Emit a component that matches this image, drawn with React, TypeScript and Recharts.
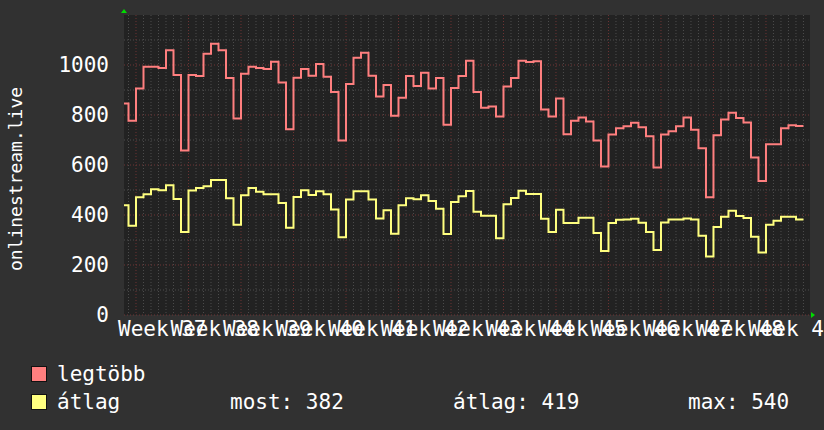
import React from "react";
import { LineChart, Line, XAxis, YAxis, CartesianGrid, ReferenceDot } from "recharts";

// daily values, first entry is day -2 relative to the start of week 37
const FIRST_DAY = -2;

const maxValues = [
  846, 777, 906, 993, 993, 988, 1059, 960, 658, 960, 956, 1045, 1085, 1059, 948, 786,
  965, 993, 988, 984, 1013, 930, 743, 949, 984, 957, 1004, 953, 892, 698, 924, 1029,
  1049, 957, 874, 920, 797, 869, 956, 916, 969, 906, 948, 761, 908, 956, 1017, 892,
  829, 834, 794, 914, 948, 1017, 1012, 1015, 822, 794, 866, 723, 777, 790, 774, 698,
  594, 722, 747, 755, 769, 751, 715, 590, 722, 735, 755, 790, 741, 667, 471, 719,
  782, 809, 788, 770, 630, 536, 683, 683, 747, 759, 756,
];

const avgValues = [
  439, 357, 471, 483, 503, 499, 519, 464, 332, 498, 508, 515, 540, 540, 467, 361,
  479, 508, 493, 483, 483, 448, 349, 472, 499, 480, 495, 483, 422, 311, 462, 495,
  495, 462, 386, 419, 325, 439, 467, 463, 479, 456, 425, 324, 452, 475, 496, 413,
  397, 397, 307, 443, 468, 497, 484, 484, 385, 332, 421, 368, 368, 389, 389, 328,
  256, 368, 381, 382, 385, 369, 332, 260, 370, 382, 382, 386, 382, 317, 234, 352,
  393, 417, 396, 388, 313, 250, 361, 377, 393, 393, 382,
];

const weekLabels = [
  "Week 37", "Week 38", "Week 39", "Week 40", "Week 41", "Week 42", "Week 43",
  "Week 44", "Week 45", "Week 46", "Week 47", "Week 48", "Week 49",
];

const yTicks = [0, 200, 400, 600, 800, 1000];
const yMinor = [100, 300, 500, 700, 900, 1100];
const X_DOMAIN: [number, number] = [-1.6, 89.87];
const Y_DOMAIN: [number, number] = [0, 1200];

const legendRows = [
  { name: "legtöbb", color: "#ff7f7f", stats: [] as string[] },
  { name: "átlag", color: "#ffff7f", stats: ["most: 382", "átlag: 419", "max: 540"] },
];

const MONO = "'DejaVu Sans Mono', monospace";

// build table; the trailing row closes the last step
const rows = maxValues.map((v, i) => ({ day: FIRST_DAY + i, max: v, avg: avgValues[i] }));
rows.push({
  day: FIRST_DAY + maxValues.length,
  max: maxValues[maxValues.length - 1],
  avg: avgValues[avgValues.length - 1],
});

const weekStarts = weekLabels.map((_, i) => i * 7);
const weekMids = weekLabels.map((_, i) => i * 7 + 3.5);
const dayLines: number[] = [];
for (let d = -1; d <= 89; d++) if (d % 7 !== 0) dayLines.push(d);

const WeekTick = (props: any) => {
  const { x, y, index } = props;
  return (
    <text x={x} y={y} dy="0.71em" textAnchor="middle" fill="#fff" fontFamily={MONO} fontSize={21}>
      {weekLabels[index]}
    </text>
  );
};

const AxisTitle = (props: any) => {
  const vb = props.viewBox || { x: 0, y: 15, height: 300 };
  const cx = 15;
  const cy = vb.y + vb.height / 2 + 14;
  return (
    <text
      x={cx}
      y={cy}
      transform={`rotate(-90 ${cx} ${cy})`}
      textAnchor="middle"
      dominantBaseline="central"
      fill="#fff"
      fontFamily={MONO}
      fontSize={18}
    >
      onlinestream.live
    </text>
  );
};

const UpArrow = (props: any) => {
  const { cx, cy } = props;
  return <polygon points={`${cx - 3},${cy - 2} ${cx + 3},${cy - 2} ${cx},${cy - 6}`} fill="#00dd00" />;
};

const RightArrow = (props: any) => {
  const { cx, cy } = props;
  return <polygon points={`${cx + 1},${cy - 3} ${cx + 1},${cy + 3} ${cx + 5},${cy}`} fill="#00dd00" />;
};

export default function App() {
  return (
    <div
      style={{
        position: "absolute",
        left: 0,
        top: 0,
        width: 824,
        height: 430,
        background: "#313131",
        overflow: "hidden",
      }}
    >
      <LineChart width={824} height={430} data={rows} margin={{ top: 15, right: 14, bottom: 85, left: 0 }}>
        <CartesianGrid
          fill="#222222"
          stroke="#4c4c4c"
          strokeDasharray="1 2"
          horizontalValues={yMinor}
          verticalValues={dayLines}
        />
        <CartesianGrid
          stroke="#6e3434"
          strokeDasharray="1 2"
          horizontalValues={yTicks}
          verticalValues={weekStarts}
        />
        <XAxis
          type="number"
          dataKey="day"
          domain={X_DOMAIN}
          allowDataOverflow
          height={30}
          ticks={weekMids}
          interval={0}
          tick={<WeekTick />}
          tickLine={false}
          axisLine={false}
          tickSize={0}
          tickMargin={6}
        />
        <YAxis
          type="number"
          domain={Y_DOMAIN}
          allowDataOverflow
          ticks={yTicks}
          interval={0}
          width={124}
          tickLine={false}
          axisLine={false}
          tickSize={0}
          tickMargin={15}
          tick={{ fill: "#fff", fontSize: 21, fontFamily: MONO }}
          label={<AxisTitle />}
        />
        <Line
          type="stepAfter"
          dataKey="max"
          stroke="#ff7f7f"
          strokeWidth={2}
          dot={false}
          isAnimationActive={false}
        />
        <Line
          type="stepAfter"
          dataKey="avg"
          stroke="#ffff7f"
          strokeWidth={2}
          dot={false}
          isAnimationActive={false}
        />
        <ReferenceDot x={X_DOMAIN[0]} y={Y_DOMAIN[1]} r={0} shape={<UpArrow />} ifOverflow="visible" />
        <ReferenceDot x={X_DOMAIN[1]} y={0} r={0} shape={<RightArrow />} ifOverflow="visible" />
      </LineChart>
      {legendRows.map((row, i) => (
        <div
          key={row.name}
          style={{
            position: "absolute",
            left: 31,
            top: 362 + i * 28,
            height: 24,
            width: 780,
            fontFamily: MONO,
            fontSize: 21,
            color: "#fff",
            lineHeight: "24px",
          }}
        >
          <span
            style={{
              position: "absolute",
              left: 0,
              top: 4,
              width: 14,
              height: 14,
              background: row.color,
              border: "1px solid #111",
            }}
          />
          <span style={{ position: "absolute", left: 26 }}>{row.name}</span>
          {row.stats.map((s, j) => (
            <span key={s} style={{ position: "absolute", left: [199, 422, 657][j] }}>
              {s}
            </span>
          ))}
        </div>
      ))}
    </div>
  );
}
